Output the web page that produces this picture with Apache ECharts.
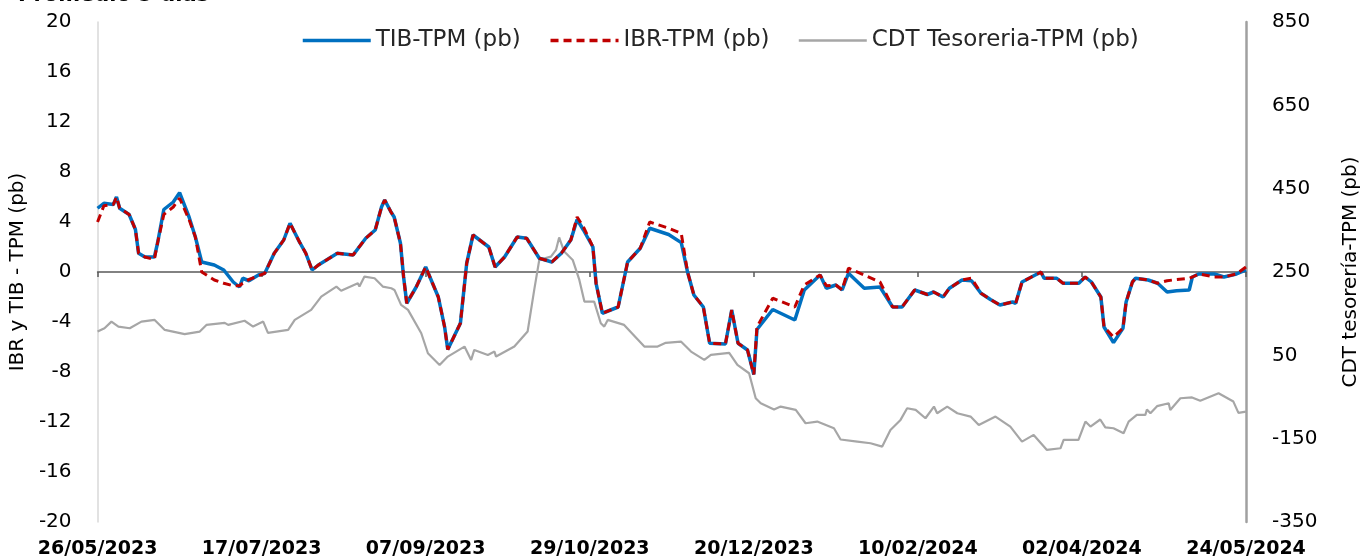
<!DOCTYPE html>
<html>
<head>
<meta charset="utf-8">
<script src="https://cdn.jsdelivr.net/npm/echarts@6/dist/echarts.min.js"></script>
<style>html,body{margin:0;padding:0;background:#fff;}#c{width:1369px;height:560px;}</style>
</head>
<body>
<div id="c"></div>
<script>
// Day offsets from 26/05/2023
var startDate = [2023, 4, 26];
var xTickDays = 52;
var days = [0,2,5,6,7,10,12,13,15,18,19,21,24,26,29,31,33,37,40,43,45,46,48,51,53,56,59,61,64,66,68,70,76,81,85,88,90,91,93,94,96,97,98,101,104,108,110,111,115,117,119,124,126,129,133,136,140,144,147,150,152,154,157,158,160,165,168,172,175,181,185,187,189,192,194,199,201,203,206,208,209,214,221,224,229,231,234,236,238,243,248,252,255,259,263,265,268,270,274,277,280,283,286,290,291,293,296,299,300,304,306,311,313,315,318,319,322,325,326,328,329,333,336,339,342,346,347,349,354,357,361,364];
var tib = [5.1,5.5,5.4,6.0,5.1,4.6,3.4,1.5,1.2,1.2,2.3,5.0,5.6,6.35,4.4,2.8,0.8,0.56,0.16,-0.8,-1.2,-0.5,-0.7,-0.24,-0.1,1.5,2.56,3.9,2.4,1.5,0.16,0.56,1.5,1.36,2.7,3.36,5.2,5.76,4.8,4.4,2.3,-0.4,-2.5,-1.2,0.4,-2.0,-4.4,-6.2,-4.1,0.7,2.96,2.0,0.4,1.2,2.8,2.7,1.1,0.8,1.5,2.56,4.2,3.36,2.0,-0.9,-3.3,-2.8,0.8,1.9,3.5,3.0,2.35,0.0,-1.84,-2.8,-5.7,-5.76,-3.04,-5.7,-6.24,-8.2,-4.6,-3.0,-3.84,-1.44,-0.24,-1.3,-1.04,-1.44,-0.1,-1.3,-1.2,-2.8,-2.8,-1.44,-1.8,-1.6,-2.0,-1.3,-0.64,-0.7,-1.7,-2.2,-2.64,-2.4,-2.5,-0.8,-0.4,0.0,-0.5,-0.5,-0.9,-0.9,-0.4,-0.8,-2.0,-4.4,-5.65,-4.5,-2.4,-0.8,-0.5,-0.64,-0.9,-1.6,-1.5,-1.44,-0.4,-0.16,-0.16,-0.4,-0.16,0.16];
var ibr = [4.0,5.3,5.4,6.0,5.1,4.6,3.4,1.5,1.2,1.0,2.3,4.6,5.2,5.9,4.2,2.8,0.0,-0.64,-0.9,-1.1,-1.1,-0.9,-0.6,-0.3,-0.1,1.5,2.56,3.9,2.4,1.5,0.16,0.56,1.5,1.36,2.7,3.36,5.2,5.76,4.8,4.4,2.3,-0.4,-2.5,-1.2,0.4,-2.0,-4.4,-6.2,-4.1,0.7,2.96,2.0,0.4,1.2,2.8,2.7,1.1,0.8,1.5,2.56,4.4,3.6,2.0,-0.9,-3.3,-2.8,0.8,1.9,4.0,3.5,3.1,0.0,-1.84,-2.8,-5.7,-5.76,-3.04,-5.7,-6.24,-8.2,-4.4,-2.1,-2.8,-1.04,-0.24,-1.1,-1.04,-1.44,0.3,-0.24,-0.8,-2.8,-2.8,-1.44,-1.8,-1.6,-2.0,-1.3,-0.64,-0.5,-1.7,-2.2,-2.64,-2.4,-2.5,-0.8,-0.4,0.0,-0.5,-0.5,-0.9,-0.9,-0.4,-0.8,-2.0,-4.4,-5.2,-4.5,-2.4,-0.8,-0.5,-0.64,-0.9,-0.7,-0.6,-0.5,-0.4,-0.16,-0.4,-0.4,-0.16,0.4];
var cdtDays = [0,2.2,4.4,6.6,10.2,13.9,18.1,21.3,27.6,32.4,34.5,40.3,41.4,46.6,49.3,52.5,54,60.4,62.5,67.7,70.9,75.7,77.2,82.5,83,84.6,87.8,90.4,93.1,94.1,96.2,98.4,102.6,104.7,108.4,111,116.3,118.4,119.4,123.7,125.8,126.3,132.1,136.3,138.4,140,143.7,145.3,146.3,147.9,150.6,152.7,154.3,157.4,159.5,160.6,161.7,166.9,173.3,177.5,180.1,184.9,188.1,192.3,194.4,200.2,202.8,206.5,208.6,210.2,214.4,216.5,221.3,224.4,228.1,233.4,235.5,240.8,245,248.7,251.3,254.5,256.6,259.3,262.4,265.1,266.1,269.3,272.5,276.7,279.3,284.6,289.3,293,296.7,300.9,305.2,306.2,310.9,313.1,314.7,317.8,319.4,322,325.2,326.8,329.4,332.1,332.6,333.7,335.8,339.5,340,343.2,346.9,349.5,355.3,360,361.6,364];
var cdt = [107,115,131,119,115,131,135,111,101,107,123,128,123,133,119,131,104,111,135,159,191,215,205,223,215,239,235,215,211,207,171,159,103,55,27,47,71,39,63,51,59,47,71,107,207,279,287,303,333,299,279,231,179,179,127,119,135,123,71,71,80,83,59,39,51,56,27,7,-53,-65,-80,-73,-81,-113,-109,-125,-152,-157,-161,-169,-129,-105,-77,-81,-101,-73,-89,-73,-89,-97,-117,-97,-121,-157,-141,-177,-173,-153,-153,-109,-121,-104,-123,-125,-137,-109,-93,-93,-80,-89,-72,-65,-81,-53,-51,-59,-41,-61,-88,-85];
var leftTicks = {min: -20, max: 20, interval: 4};
var rightTicks = {min: -350, max: 850, interval: 200};

function zip(a, b) { return a.map(function (d, i) { return [d, b[i]]; }); }
function fmtDay(v) {
  var t = Date.UTC(startDate[0], startDate[1], startDate[2]) + v * 86400000;
  var d = new Date(t);
  var dd = ('0' + d.getUTCDate()).slice(-2), mm = ('0' + (d.getUTCMonth() + 1)).slice(-2);
  return dd + '/' + mm + '/' + d.getUTCFullYear();
}
var FONT = 'DejaVu Sans';
var chart = echarts.init(document.getElementById('c'), null, {renderer: 'canvas'});
chart.setOption({
  animation: false,
  backgroundColor: '#fff',
  title: {
    text: 'Promedio 5 días', left: 13, top: -20,
    textStyle: {fontFamily: FONT, fontWeight: 'bold', fontSize: 21, color: '#000'}
  },
  legend: {
    left: 296, top: 24, itemWidth: 68, itemHeight: 14, itemGap: 28,
    itemStyle: {opacity: 0, borderWidth: 0},
    textStyle: {fontFamily: FONT, fontSize: 23, color: '#262626'},
    data: [
      {name: 'TIB-TPM (pb)', lineStyle: {width: 3.5}},
      {name: 'IBR-TPM (pb)', lineStyle: {width: 3.5}},
      {name: 'CDT Tesoreria-TPM (pb)', lineStyle: {width: 2.5}}
    ]
  },
  grid: {left: 96, right: 122, top: 22, bottom: 38, containLabel: false},
  xAxis: [{
    type: 'value', min: 0, max: 364, interval: xTickDays, position: 'bottom',
    axisLine: {show: true, onZero: true, onZeroAxisIndex: 0, lineStyle: {color: '#595959', width: 1.5}},
    axisTick: {show: true, length: 5, lineStyle: {color: '#595959', width: 1.5}},
    axisLabel: {show: false}, splitLine: {show: false}
  }, {
    type: 'value', min: 0, max: 364, interval: xTickDays, position: 'bottom',
    axisLine: {show: false, onZero: false}, axisTick: {show: false}, splitLine: {show: false},
    axisLabel: {show: true, margin: 18, formatter: fmtDay,
      fontFamily: FONT, fontWeight: 'bold', fontSize: 19, color: '#000'}
  }],
  yAxis: [{
    type: 'value', min: leftTicks.min, max: leftTicks.max, interval: leftTicks.interval,
    position: 'left',
    name: 'IBR y TIB - TPM (pb)', nameLocation: 'middle', nameGap: 68, nameRotate: 90,
    nameTextStyle: {fontFamily: FONT, fontSize: 20, color: '#000'},
    axisLine: {show: true, onZero: false, lineStyle: {color: '#D9D9D9', width: 1.5}},
    axisTick: {show: false}, splitLine: {show: false},
    axisLabel: {margin: 26, fontFamily: FONT, fontSize: 20, color: '#000'}
  }, {
    type: 'value', min: rightTicks.min, max: rightTicks.max, interval: rightTicks.interval,
    position: 'right',
    name: 'CDT tesorería-TPM (pb)', nameLocation: 'middle', nameGap: 95, nameRotate: 90,
    nameTextStyle: {fontFamily: FONT, fontSize: 20, color: '#000'},
    axisLine: {show: true, onZero: false, lineStyle: {color: '#A0A0A0', width: 2.5}},
    axisTick: {show: false}, splitLine: {show: false},
    axisLabel: {margin: 26, fontFamily: FONT, fontSize: 20, color: '#000'}
  }],
  series: [{
    name: 'CDT Tesoreria-TPM (pb)', type: 'line', xAxisIndex: 0, yAxisIndex: 1,
    data: zip(cdtDays, cdt), symbol: 'none', showSymbol: false,
    lineStyle: {color: '#A6A6A6', width: 2.2}, itemStyle: {color: '#A6A6A6'}
  }, {
    name: 'TIB-TPM (pb)', type: 'line', xAxisIndex: 0, yAxisIndex: 0,
    data: zip(days, tib), symbol: 'none', showSymbol: false,
    lineStyle: {color: '#0070C0', width: 3.5}, itemStyle: {color: '#0070C0'}
  }, {
    name: 'IBR-TPM (pb)', type: 'line', xAxisIndex: 0, yAxisIndex: 0,
    data: zip(days, ibr), symbol: 'none', showSymbol: false,
    lineStyle: {color: '#C00000', width: 3, type: [8, 5]}, itemStyle: {color: '#C00000'}
  }]
});
</script>
</body>
</html>
